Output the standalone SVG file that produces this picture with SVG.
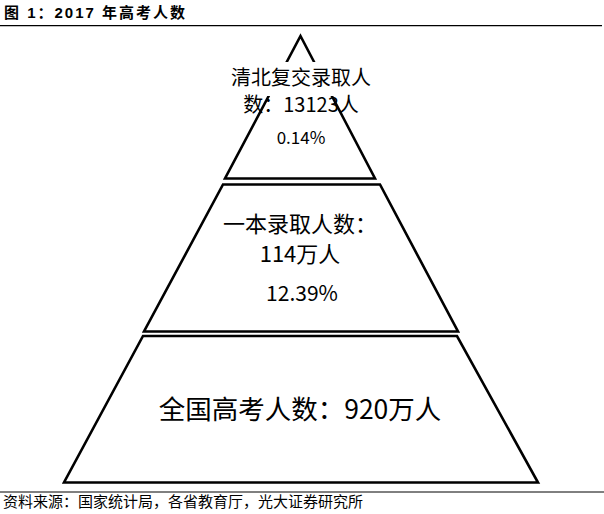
<svg xmlns="http://www.w3.org/2000/svg" width="604" height="514" viewBox="0 0 604 514">
<style>
.tier{fill:none;stroke:#000;stroke-width:2.6;stroke-linejoin:miter}
.rule{stroke:#000;stroke-width:1.3}
.lbl{font-family:"Noto Sans CJK SC","Liberation Sans",sans-serif;fill:#000;text-anchor:middle}
.cap{font-family:"Liberation Sans","Noto Sans CJK SC",sans-serif;fill:#000}
</style>
<rect width="604" height="514" fill="#fff"/>
<text class="cap" x="4" y="18" font-size="15" font-weight="bold" letter-spacing="2">图 1：2017 年高考人数</text>
<line class="rule" x1="0" y1="25.7" x2="602" y2="25.7"/>
<g id="connectors"></g>
<g id="tier-top">
<polygon class="tier" points="300.5,36 375,178.5 225,178.5"/>
<rect x="226" y="62" width="150" height="34" fill="#fff"/>
<text class="lbl" x="301" y="85" font-size="20">清北复交录取人</text>
<text class="lbl" x="301" y="111.5" font-size="20">数：13123人</text>
<text class="lbl" x="301" y="143.5" font-size="17">0.14%</text>
</g>
<g id="tier-middle">
<polygon class="tier" points="223,184.5 380,184.5 458,331.5 144,331.5"/>
<text class="lbl" x="300" y="232" font-size="22">一本录取人数：</text>
<text class="lbl" x="300" y="262" font-size="22">114万人</text>
<text class="lbl" x="302" y="300.7" font-size="21">12.39%</text>
</g>
<g id="tier-bottom">
<polygon class="tier" points="143,336 457,336 538,482.5 64,482.5"/>
<text class="lbl" x="300" y="418.5" font-size="26.5">全国高考人数：920万人</text>
</g>
<line x1="0" y1="492" x2="604" y2="492" stroke="#000" stroke-width="1"/>
<text class="cap" x="3" y="507" font-size="15">资料来源：国家统计局，各省教育厅，光大证券研究所</text>
</svg>
